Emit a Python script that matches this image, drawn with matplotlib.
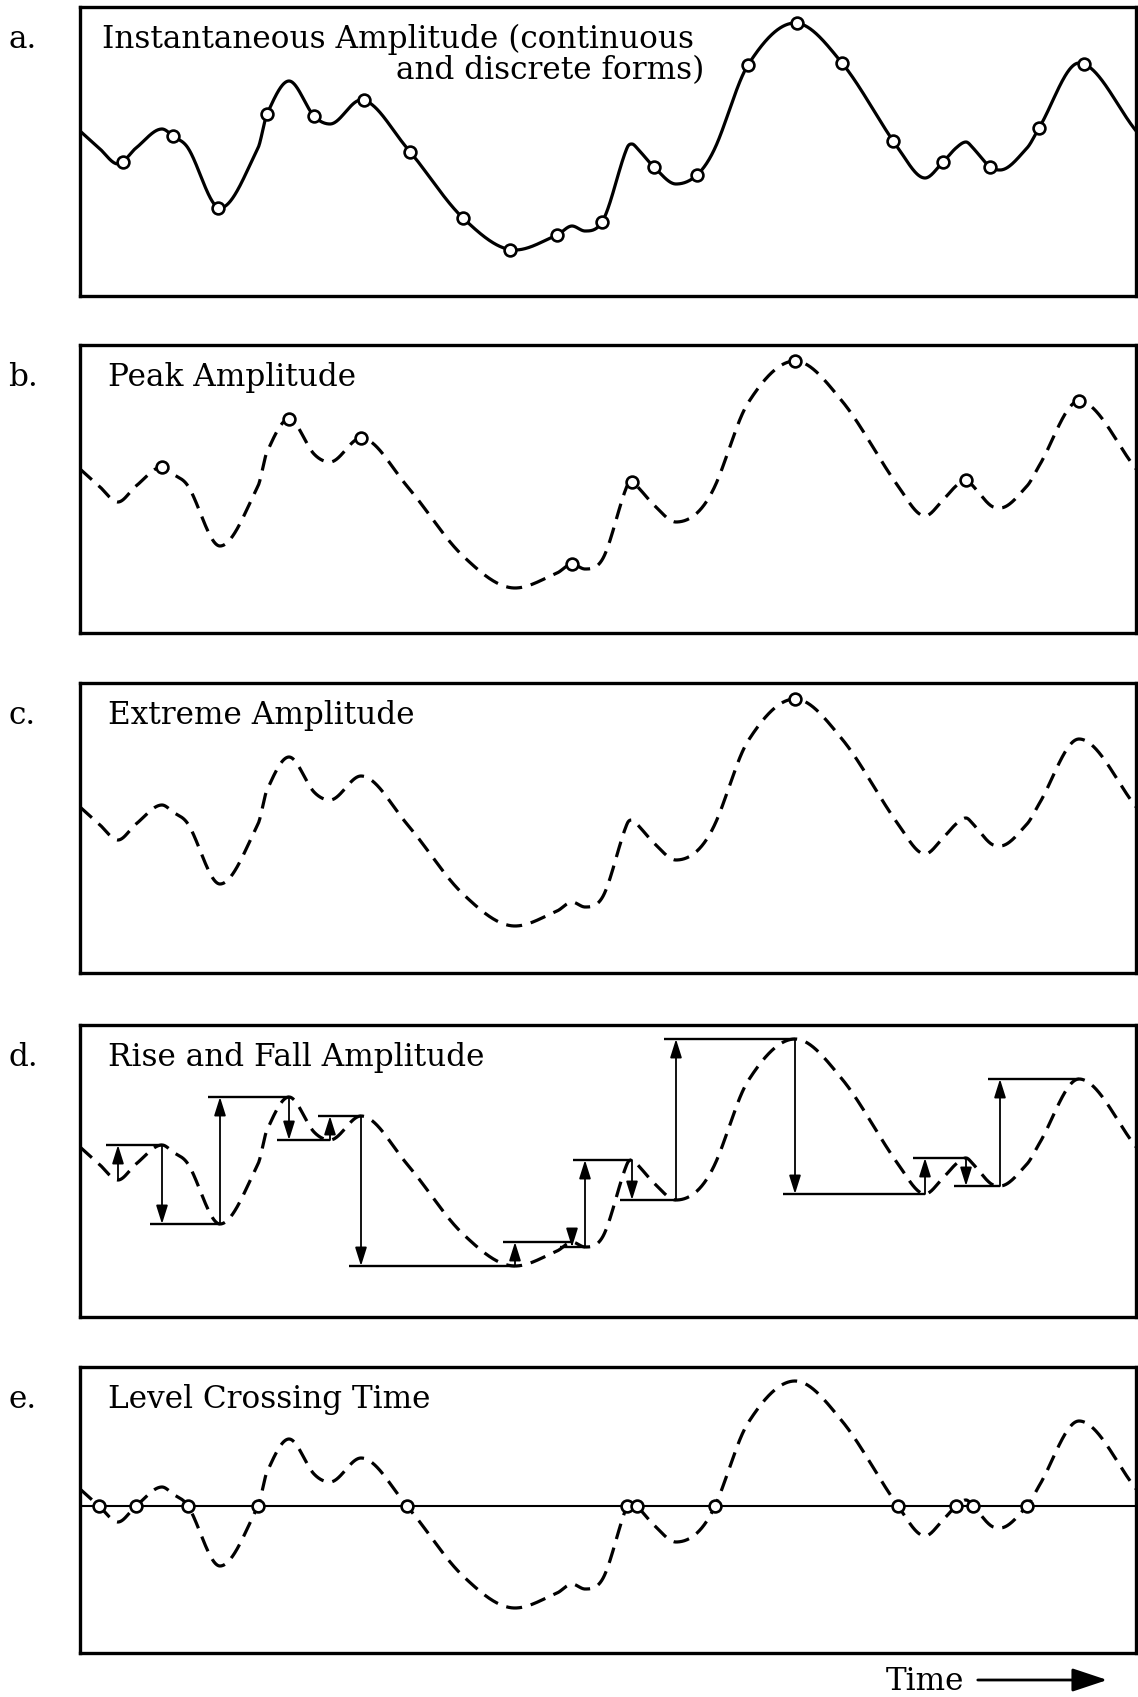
import numpy as np
import matplotlib
matplotlib.use("Agg")
import matplotlib.pyplot as plt
from matplotlib.patches import FancyArrowPatch

# ---------------- data ----------------
# waveform knots: time (arbitrary units) and amplitude relative to the crossing level
shape_t = [0, 38, 82, 93, 140, 187, 209, 234, 250, 281, 383, 435, 477, 492, 505,
           522, 552, 574, 596, 617, 668, 715, 762, 845, 863, 886, 910, 920, 959, 999, 1057]
shape_a = [17, -16, 19, 12, -60, 34, 67, 32, 24, 48, -70, -102, -87, -78, -83,
           -74, 4, -19, -36, -27, 83, 125, 85, -30, -14, 6, -19, -22, 20, 85, 16]
# level-crossing times (panel e)
crossing_t = [19, 56, 108, 178, 327, 547, 557, 635, 818, 876, 893, 947]
crossing_level = 0
# discrete sampling times (panel a)
sample_t = [43, 93, 138, 187, 234, 284, 330, 383, 430, 477, 522, 574, 617, 668,
            717, 762, 813, 863, 910, 959, 1004]

panel_letters = ["a.", "b.", "c.", "d.", "e."]
panel_titles = ["Instantaneous Amplitude (continuous", "Peak Amplitude",
                "Extreme Amplitude", "Rise and Fall Amplitude", "Level Crossing Time"]
title_line2 = "and discrete forms)"
axis_label = "Time"

# ---------------- helpers ----------------
def smooth_hermite(x, y, xn):
    """Cubic Hermite through the knots, Catmull-Rom tangents, flat at extrema."""
    x = np.asarray(x, float); y = np.asarray(y, float)
    h = np.diff(x); dl = np.diff(y) / h
    n = len(x); d = np.zeros(n)
    for k in range(1, n - 1):
        if dl[k - 1] * dl[k] > 0:
            dk = (y[k + 1] - y[k - 1]) / (x[k + 1] - x[k - 1])
            lim = 3 * min(abs(dl[k - 1]), abs(dl[k]))
            d[k] = np.sign(dk) * min(abs(dk), lim)
    d[0] = dl[0]; d[-1] = dl[-1]
    idx = np.clip(np.searchsorted(x, xn) - 1, 0, n - 2)
    hh = h[idx]; s = (xn - x[idx]) / hh
    h00 = 2 * s**3 - 3 * s**2 + 1; h10 = s**3 - 2 * s**2 + s
    h01 = -2 * s**3 + 3 * s**2; h11 = s**3 - s**2
    return h00 * y[idx] + h10 * hh * d[idx] + h01 * y[idx + 1] + h11 * hh * d[idx + 1]

kt = np.array(shape_t + crossing_t, float)
ka = np.array(shape_a + [crossing_level] * len(crossing_t), float)
order = np.argsort(kt); kt = kt[order]; ka = ka[order]

tt = np.linspace(kt[0], kt[-1], 3000)
aa = smooth_hermite(kt, ka, tt)

# extrema of the waveform (knots where the slope changes sign)
ext = [i for i in range(1, len(kt) - 1) if (ka[i] - ka[i - 1]) * (ka[i + 1] - ka[i]) < 0]
ext_t = kt[ext]; ext_a = ka[ext]
is_max = np.array([ka[i] > ka[i - 1] for i in ext])

# ---------------- figure ----------------
W, H = 1138, 1697
fig = plt.figure(figsize=(W / 100, H / 100), dpi=100)
plt.rcParams["font.family"] = ["DejaVu Serif"]

left, right = 80, 1136
tops = [7, 345, 683, 1025, 1367]
bottoms = [296, 633, 973, 1317, 1653]
level_depth = [141, 141, 141, 139, 139]

def fx(x): return x / W
def fy(y): return 1 - y / H

dash = (5.0, 2.8)
lw_curve = 2.3
circ = dict(marker="o", ms=8.5, mfc="white", mec="black", mew=1.9, ls="none", zorder=5)

axes = []
for k in range(5):
    ax = fig.add_axes([fx(left), fy(bottoms[k]), (right - left) / W, (bottoms[k] - tops[k]) / H])
    ax.set_xlim(0, right - left)
    ax.set_ylim(level_depth[k] - (bottoms[k] - tops[k]), level_depth[k])
    ax.set_xticks([]); ax.set_yticks([])
    for sp in ax.spines.values():
        sp.set_linewidth(2.4)
    axes.append(ax)

# a. instantaneous amplitude
ax = axes[0]
ax.plot(tt, aa, color="black", lw=lw_curve, solid_capstyle="round")
st = np.array(sample_t, float)
ax.plot(st, smooth_hermite(kt, ka, st), **circ)

# b. peak amplitude
ax = axes[1]
ax.plot(tt, aa, color="black", lw=lw_curve, dashes=dash)
ax.plot(ext_t[is_max], ext_a[is_max], **circ)

# c. extreme amplitude
ax = axes[2]
ax.plot(tt, aa, color="black", lw=lw_curve, dashes=dash)
g = np.argmax(aa)
ax.plot([tt[g]], [aa[g]], **circ)

# d. rise and fall amplitude
ax = axes[3]
ax.plot(tt, aa, color="black", lw=lw_curve, dashes=dash)
for i in range(len(ext_t) - 1):
    t0, a0, t1, a1 = ext_t[i], ext_a[i], ext_t[i + 1], ext_a[i + 1]
    ax.plot([t0 - 12, t1], [a1, a1], color="black", lw=1.7, solid_capstyle="butt")
    ax.annotate("", xy=(t0, a1), xytext=(t0, a0),
                arrowprops=dict(arrowstyle="-|>,head_length=0.7,head_width=0.22",
                                lw=1.3, color="black",
                                mutation_scale=16, shrinkA=0, shrinkB=0))

# e. level crossing time
ax = axes[4]
ax.plot(tt, aa, color="black", lw=lw_curve, dashes=dash)
ax.axhline(crossing_level, color="black", lw=1.5)
ax.plot(crossing_t, [crossing_level] * len(crossing_t), **circ)

# ---------------- text ----------------
fs = 22.4
title_x = [102, 108, 108, 108, 108]
for k in range(5):
    base = tops[k] + 41
    fig.text(fx(8), fy(base), panel_letters[k], fontsize=fs, va="baseline", ha="left")
    fig.text(fx(title_x[k]), fy(base), panel_titles[k], fontsize=fs, va="baseline", ha="left")
fig.text(fx(704), fy(tops[0] + 72), title_line2, fontsize=fs, va="baseline", ha="right")

fig.text(fx(886), fy(1690), axis_label, fontsize=fs, va="baseline", ha="left")
arr = FancyArrowPatch((fx(975), fy(1680)), (fx(1110), fy(1680)), transform=fig.transFigure,
                      arrowstyle="-|>,head_length=0.9,head_width=0.3",
                      mutation_scale=24, lw=2.0, color="black")
fig.add_artist(arr)

fig.savefig("out.png", dpi=100, facecolor="white")
